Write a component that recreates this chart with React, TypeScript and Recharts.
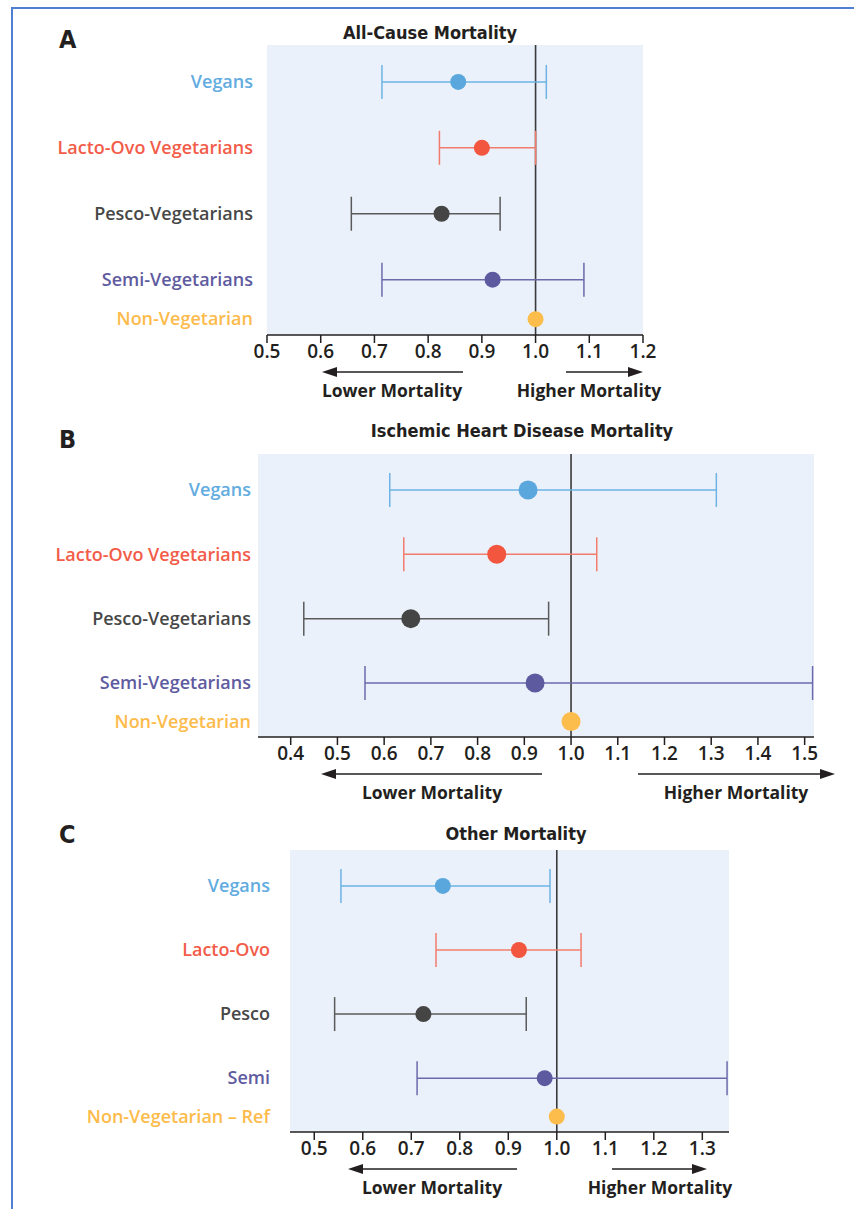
import React from 'react';
import { ScatterChart, Scatter, XAxis, YAxis, ErrorBar, ReferenceLine, CartesianGrid } from 'recharts';

// row positions (top to bottom): Vegans, Lacto-Ovo, Pesco, Semi, Non-Vegetarian
const rowPos = [3.6, 2.6, 1.6, 0.6, 0];
const dotColors = ['#5AA7DD', '#F2563F', '#454545', '#5D5AA0', '#FDBD4C'];
const barColors = ['#6DB3E4', '#F27C6C', '#5A5A5A', '#6D6AAC', '#FDBD4C'];
const textColors = ['#62ACE0', '#F25C49', '#474747', '#5F5B9F', '#FDBB4B'];

const labelsLong = ['Vegans', 'Lacto-Ovo Vegetarians', 'Pesco-Vegetarians', 'Semi-Vegetarians', 'Non-Vegetarian'];
const labelsShort = ['Vegans', 'Lacto-Ovo', 'Pesco', 'Semi', 'Non-Vegetarian – Ref'];

// A: all-cause mortality
const allCauseHR = [0.856, 0.9, 0.825, 0.92, 1.0];
const allCauseLow = [0.714, 0.821, 0.657, 0.714, 1.0];
const allCauseHigh = [1.02, 1.0, 0.934, 1.09, 1.0];
const allCauseTicks = [0.5, 0.6, 0.7, 0.8, 0.9, 1.0, 1.1, 1.2];

// B: ischemic heart disease mortality
const ihdHR = [0.908, 0.841, 0.657, 0.923, 1.0];
const ihdLow = [0.612, 0.642, 0.428, 0.559, 1.0];
const ihdHigh = [1.311, 1.055, 0.952, 1.517, 1.0];
const ihdTicks = [0.4, 0.5, 0.6, 0.7, 0.8, 0.9, 1.0, 1.1, 1.2, 1.3, 1.4, 1.5];

// C: other mortality
const otherHR = [0.765, 0.922, 0.725, 0.975, 1.0];
const otherLow = [0.555, 0.751, 0.542, 0.712, 1.0];
const otherHigh = [0.986, 1.05, 0.937, 1.351, 1.0];
const otherTicks = [0.5, 0.6, 0.7, 0.8, 0.9, 1.0, 1.1, 1.2, 1.3];

const INK = '#231F20';
const BODY_FONT = "'Open Sans', 'Noto Sans', sans-serif";
const NARROW_FONT = "'Liberation Sans Narrow', 'DejaVu Sans Condensed', 'Open Sans', sans-serif";

type PanelProps = {
  hr: number[];
  low: number[];
  high: number[];
  ticks: number[];
  domain: [number, number];
  labels: string[];
  plotLeft: number;
  plotRight: number;
  plotTop: number;
  plotBottom: number;
  labelGap: number;
  dotR: number;
};

const ForestPanel = (p: PanelProps) => {
  const height = p.plotBottom - p.plotTop + 50;
  const rows = p.hr.map((v, i) => ({
    row: rowPos[i],
    hr: v,
    err: p.low[i] === p.high[i] ? null : [v - p.low[i], p.high[i] - v],
  }));

  const RowTick = (t: any) => {
    const i = rowPos.indexOf(t.payload.value);
    return (
      <text x={t.x} y={t.y} dy="0.35em" textAnchor="end" fill={textColors[i]}
        fontFamily={BODY_FONT} fontSize={18} fontWeight={600}>
        {p.labels[i]}
      </text>
    );
  };

  return (
    <div style={{ position: 'absolute', left: 0, top: p.plotTop - 10 }}>
      <ScatterChart width={854} height={height}
        margin={{ top: 10, right: 854 - p.plotRight, bottom: 10, left: 0 }}>
        <CartesianGrid fill="#EAF1FA" horizontal={false} vertical={false} />
        <XAxis type="number" dataKey="hr" domain={p.domain} ticks={p.ticks} allowDataOverflow
          interval={0} height={30} tickSize={8} tickMargin={2}
          tickFormatter={(v: number) => v.toFixed(1)}
          axisLine={{ stroke: INK, strokeWidth: 1.5 }} tickLine={{ stroke: INK, strokeWidth: 1.5 }}
          tick={{ fill: INK, fontSize: 19, fontWeight: 600, fontFamily: BODY_FONT }} />
        <YAxis type="number" dataKey="row" domain={[-0.24, 4.16]} ticks={rowPos} interval={0}
          width={p.plotLeft} tickSize={0} tickMargin={p.labelGap} axisLine={false} tickLine={false}
          tick={RowTick} />
        <ReferenceLine x={1} stroke="#3A3A3A" strokeWidth={1.6} />
        {rows.map((r, i) => (
          <Scatter key={labelsLong[i]} data={[r]} isAnimationActive={false}
            shape={(s: any) => <circle cx={s.cx} cy={s.cy} r={p.dotR} fill={dotColors[i]} />}>
            {r.err && (
              <ErrorBar dataKey="err" direction="x" width={17} strokeWidth={1.5}
                stroke={barColors[i]} isAnimationActive={false} />
            )}
          </Scatter>
        ))}
      </ScatterChart>
    </div>
  );
};

const Arrow = ({ x1, x2, y }: { x1: number; x2: number; y: number }) => {
  const dir = x2 > x1 ? 1 : -1;
  return (
    <g>
      <line x1={x1} y1={y} x2={x2 - dir * 12} y2={y} stroke={INK} strokeWidth={1.6} />
      <polygon points={`${x2},${y} ${x2 - dir * 15},${y - 5} ${x2 - dir * 15},${y + 5}`} fill={INK} />
    </g>
  );
};

const textStyle = (left: number, top: number, size: number, font: string, weight = 700): React.CSSProperties => ({
  position: 'absolute', left, top, fontSize: size, fontFamily: font, fontWeight: weight,
  color: INK, whiteSpace: 'nowrap', lineHeight: 1,
});

const centered = (cx: number, top: number, size: number, font: string): React.CSSProperties => ({
  ...textStyle(cx, top, size, font), transform: 'translateX(-50%)',
});

export default function App() {
  return (
    <div style={{ position: 'absolute', left: 0, top: 0, width: 854, height: 1209, background: '#fff', overflow: 'hidden' }}>
      {/* frame */}
      <div style={{ position: 'absolute', left: 11, top: 7, width: 860, height: 1220, borderLeft: '2px solid #4F80D3', borderTop: '2px solid #4F80D3' }} />

      <ForestPanel hr={allCauseHR} low={allCauseLow} high={allCauseHigh} ticks={allCauseTicks}
        domain={[0.5, 1.2]} labels={labelsLong} plotLeft={267} plotRight={643} plotTop={45}
        plotBottom={335} labelGap={14} dotR={8} />
      <ForestPanel hr={ihdHR} low={ihdLow} high={ihdHigh} ticks={ihdTicks}
        domain={[0.33, 1.52]} labels={labelsLong} plotLeft={258} plotRight={814} plotTop={454}
        plotBottom={737} labelGap={7} dotR={9.5} />
      <ForestPanel hr={otherHR} low={otherLow} high={otherHigh} ticks={otherTicks}
        domain={[0.45, 1.355]} labels={labelsShort} plotLeft={290} plotRight={729} plotTop={850}
        plotBottom={1132} labelGap={20} dotR={8} />

      <svg width={854} height={1209} style={{ position: 'absolute', left: 0, top: 0, pointerEvents: 'none' }}>
        <Arrow x1={463} x2={322} y={372} />
        <Arrow x1={566} x2={643} y={372} />
        <Arrow x1={542} x2={321} y={774} />
        <Arrow x1={638} x2={835} y={774} />
        <Arrow x1={517} x2={348} y={1169} />
        <Arrow x1={612} x2={707} y={1169} />
      </svg>

      {/* panel letters and titles */}
      <div style={textStyle(59, 27, 25, NARROW_FONT)}>A</div>
      <div style={centered(430, 24, 18, NARROW_FONT)}>All-Cause Mortality</div>
      <div style={textStyle(59, 427, 25, NARROW_FONT)}>B</div>
      <div style={centered(522, 422, 18, NARROW_FONT)}>Ischemic Heart Disease Mortality</div>
      <div style={textStyle(59, 822, 25, NARROW_FONT)}>C</div>
      <div style={centered(516, 825, 18, NARROW_FONT)}>Other Mortality</div>

      {/* direction labels */}
      <div style={centered(392, 382, 17.5, BODY_FONT)}>Lower Mortality</div>
      <div style={centered(589, 382, 17.5, BODY_FONT)}>Higher Mortality</div>
      <div style={centered(432, 784, 17.5, BODY_FONT)}>Lower Mortality</div>
      <div style={centered(736, 784, 17.5, BODY_FONT)}>Higher Mortality</div>
      <div style={centered(432, 1179, 17.5, BODY_FONT)}>Lower Mortality</div>
      <div style={centered(660, 1179, 17.5, BODY_FONT)}>Higher Mortality</div>
    </div>
  );
}
